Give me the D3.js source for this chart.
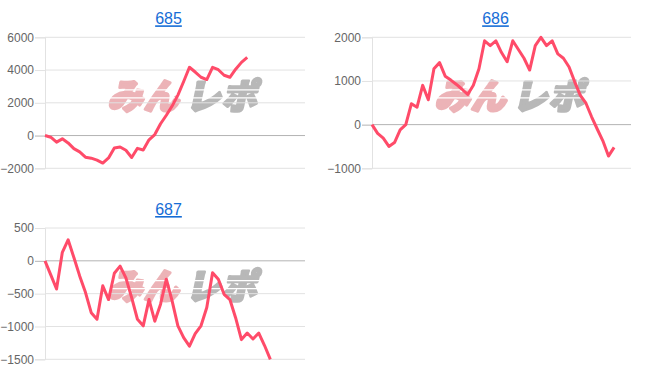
<!DOCTYPE html>
<html>
<head>
<meta charset="utf-8">
<script src="https://cdn.jsdelivr.net/npm/d3@7"></script>
<style>
  body { margin: 0; background: #fff; }
  svg { display: block; }
</style>
</head>
<body>
<div id="chart"></div>
<script>
// machine numbers shown as chart titles
const titles = ['685', '686', '687'];

// balance per checkpoint
const values685 = [0, -100, -400, -200, -450, -800, -1000, -1320, -1380, -1500, -1680, -1370, -760, -700, -900,
    -1340, -780, -880, -260, 60, 720, 1240, 1800, 2470, 3300, 4170, 3880, 3560, 3420, 4170, 4020, 3680, 3560,
    4050, 4470, 4770];
const values686 = [0, -200, -310, -500, -410, -120, 0, 480, 400, 900, 570, 1280, 1420, 1110, 1020, 920, 810, 690,
    900, 1280, 1920, 1810, 1920, 1650, 1440, 1920, 1720, 1520, 1250, 1810, 2000, 1810, 1920, 1620, 1520, 1320,
    980, 670, 490, 180, -100, -370, -720, -520];
const values687 = [0, -215, -430, 130, 320, 50, -230, -480, -790, -890, -380, -590, -190, -80, -260, -560, -890,
    -990, -590, -920, -660, -280, -610, -990, -1170, -1300, -1110, -990, -710, -180, -280, -510, -590, -870,
    -1200, -1100, -1190, -1100, -1290, -1500];

// y tick labels per chart
const ticks685 = [-2000, 0, 2000, 4000, 6000];
const ticks686 = [-1000, 0, 1000, 2000];
const ticks687 = [-1500, -1000, -500, 0, 500];

// number of x slots on each chart's axis
const xSlots = [45, 46, 45];

const width = 652, height = 382;
const lineColor = '#ff4b69';

const svg = d3.select('#chart').append('svg')
    .attr('width', width)
    .attr('height', height)
    .style('font-family', '"Liberation Sans", Arial, sans-serif');

// thin stripes cut through the watermark like the logo's speed lines
const mask = svg.append('defs').append('mask')
    .attr('id', 'stripes')
    .attr('maskUnits', 'userSpaceOnUse')
    .attr('x', -120).attr('y', -30).attr('width', 240).attr('height', 60);
mask.append('rect')
    .attr('x', -120).attr('y', -30).attr('width', 240).attr('height', 60)
    .attr('fill', '#fff');
[-4, 4].forEach(dy => {
    mask.append('rect')
        .attr('x', -120).attr('y', dy).attr('width', 240).attr('height', 1.2)
        .attr('fill', '#000');
});

const panels = [
    {title: titles[0], values: values685, ticks: ticks685, slots: xSlots[0], left: 45, top: 37.3, w: 260, h: 131},
    {title: titles[1], values: values686, ticks: ticks686, slots: xSlots[1], left: 372, top: 37.3, w: 259, h: 131},
    {title: titles[2], values: values687, ticks: ticks687, slots: xSlots[2], left: 45, top: 228, w: 260, h: 131.3},
];

panels.forEach(p => {
    const g = svg.append('g').attr('transform', `translate(${p.left},${p.top})`);

    const x = d3.scaleLinear().domain([0, p.slots]).range([0, p.w]);
    const y = d3.scaleLinear().domain(d3.extent(p.ticks)).range([p.h, 0]);

    // title, blue underlined link
    g.append('text')
        .attr('x', 123.5)
        .attr('y', -13)
        .attr('text-anchor', 'middle')
        .style('font-size', '16px')
        .style('fill', '#166dd6')
        .style('text-decoration', 'underline')
        .text(p.title);

    // watermark behind the data
    const wm = g.append('g')
        .attr('transform', `translate(${140},${56}) skewX(-12)`)
        .attr('mask', 'url(#stripes)')
        .style('font-family', '"Noto Sans CJK JP", sans-serif')
        .style('font-weight', 900)
        .style('font-size', '35px')
        .style('stroke-width', 3)
        .style('stroke-linejoin', 'round');
    wm.append('text')
        .attr('x', -2)
        .attr('y', 0)
        .attr('text-anchor', 'end')
        .attr('dominant-baseline', 'central')
        .style('letter-spacing', '1px')
        .style('fill', '#ecb3b7')
        .style('stroke', '#ecb3b7')
        .text('みん');
    wm.append('text')
        .attr('x', 4)
        .attr('y', 0)
        .attr('text-anchor', 'start')
        .attr('dominant-baseline', 'central')
        .style('letter-spacing', '1px')
        .style('fill', '#b8b8b8')
        .style('stroke', '#b8b8b8')
        .text('レポ');

    // horizontal grid
    g.selectAll('.grid')
        .data(p.ticks)
        .join('line')
        .attr('class', 'grid')
        .attr('x1', 0).attr('x2', p.w)
        .attr('y1', d => y(d)).attr('y2', d => y(d))
        .attr('stroke', d => d === 0 ? '#b3b3b3' : '#e2e2e2')
        .attr('stroke-width', 1);

    // y axis with short outer ticks
    const axis = g.append('g')
        .call(d3.axisLeft(y).tickValues(p.ticks).tickSize(10).tickPadding(1).tickFormat(d3.format('d')));
    axis.select('.domain').attr('stroke', '#e2e2e2');
    axis.selectAll('.tick line').attr('stroke', d => d === 0 ? '#b3b3b3' : '#e2e2e2');
    axis.selectAll('.tick text')
        .style('font-size', '12px')
        .style('font-family', '"Liberation Sans", Arial, sans-serif')
        .attr('fill', '#666');

    const line = d3.line()
        .x((d, i) => x(i))
        .y(d => y(d));

    g.append('path')
        .datum(p.values)
        .attr('d', line)
        .attr('fill', 'none')
        .attr('stroke', lineColor)
        .attr('stroke-width', 3)
        .attr('stroke-linejoin', 'round');
});
</script>
</body>
</html>
